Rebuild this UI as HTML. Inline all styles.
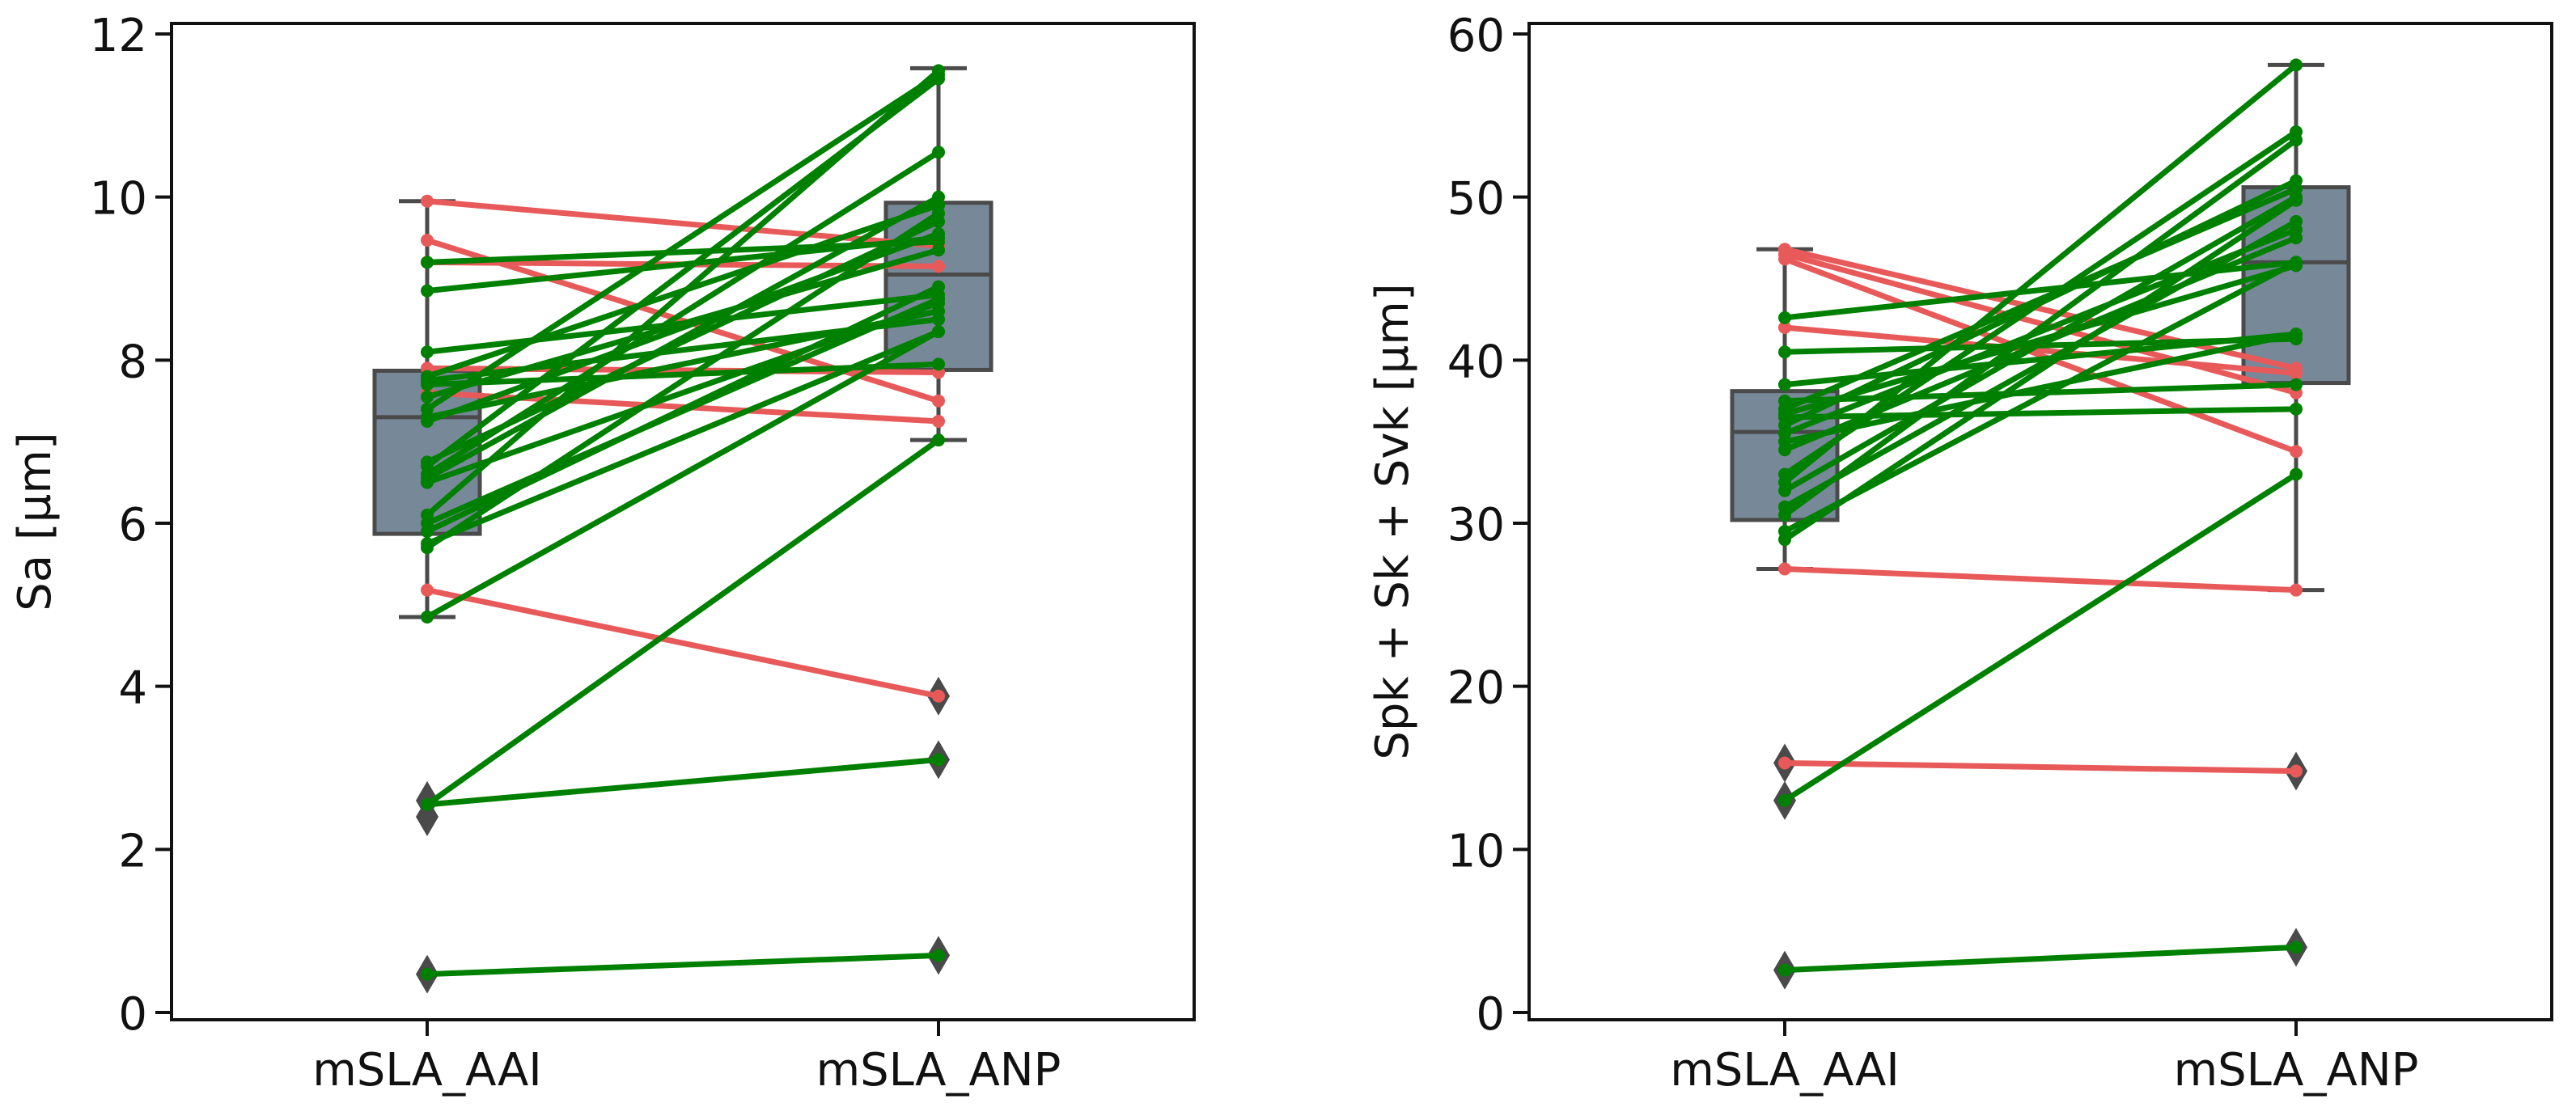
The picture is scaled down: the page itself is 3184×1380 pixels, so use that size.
<!DOCTYPE html>
<html><head><meta charset="utf-8"><style>
html,body{margin:0;padding:0;background:#fff;}
svg{display:block;font-family:"DejaVu Sans","Liberation Sans",sans-serif;}
</style></head><body>
<svg id="chart" width="3184" height="1380" viewBox="0 0 3184 1380" xmlns="http://www.w3.org/2000/svg"></svg>
<script>
const categories = ["mSLA_AAI", "mSLA_ANP"];
// Panel 1: Sa pairs [AAI, ANP]
const saPairs = [
 [9.95,9.4],[9.47,7.5],[9.2,9.15],[7.9,7.85],[7.6,7.25],[5.18,3.88],[7.55,9.35],
 [9.2,9.45],[8.85,9.5],[8.1,8.8],[7.8,9.9],[7.75,8.5],[7.7,7.95],[7.4,11.5],[7.3,8.6],
 [6.7,11.45],[6.6,10.55],[6.55,10.0],[6.75,9.7],[6.1,11.55],[5.9,8.9],[5.75,8.35],
 [5.7,9.8],[6.5,8.7],[4.85,8.35],[2.55,7.02],[2.55,3.1],[0.47,0.7],[7.25,9.55],[6.0,8.75]
];
const saBoxes = [
 {q1:5.87,med:7.3,q3:7.87,lo:4.85,hi:9.95,out:[2.6,2.4,0.47]},
 {q1:7.88,med:9.05,q3:9.93,lo:7.02,hi:11.58,out:[3.88,3.1,0.7]}
];
const saTicks = [0,2,4,6,8,10,12];
// Panel 2: Spk+Sk+Svk pairs
const sPairs = [
 [46.8,39.5],[46.5,38],[46.2,34.4],[42,39.2],[27.2,25.9],[15.3,14.8],
 [42.6,46],[40.5,41.3],[38.5,41.6],[37.5,38.5],[36.5,37],[37,50.5],[36,51],[35.5,48],
 [34.5,47.5],[33,54],[32.5,58.1],[32,50],[31,48.5],[30.5,53.5],[29,49.8],[29.5,46],
 [35,41.6],[36.7,45.8],[13,33],[2.6,4.0]
];
const sBoxes = [
 {q1:30.2,med:35.6,q3:38.1,lo:27.2,hi:46.8,out:[15.3,13.0,2.6]},
 {q1:38.6,med:46,q3:50.6,lo:25.9,hi:58.1,out:[14.8,4.0]}
];
const sTicks = [0,10,20,30,40,50,60];

const NS="http://www.w3.org/2000/svg";
const svg=document.getElementById('chart');
function mk(tag,attrs,parent){const e=document.createElementNS(NS,tag);for(const k in attrs)e.setAttribute(k,attrs[k]);(parent||svg).appendChild(e);return e;}

function panel(id,left,right,ymax,ticks,boxes,pairs,ylabel,ylabelX){
 const top=29,bottom=1261,y0=1252,yTop=42;
 const g=mk('g',{});
 
 
 const y=v=>y0-(v/ymax)*(y0-yTop);
 const w=right-left;
 const x=i=>left+w*(i+0.5)/2;
 boxes.forEach((b,i)=>{
  const cx=x(i),hw=65,cw=35;
  const bg=mk('g',{},g);
  
  
  mk('line',{x1:cx,x2:cx,y1:y(b.hi),y2:y(b.q3),stroke:'#4a4a4a','stroke-width':5},bg);
  mk('line',{x1:cx,x2:cx,y1:y(b.q1),y2:y(b.lo),stroke:'#4a4a4a','stroke-width':5},bg);
  mk('line',{x1:cx-cw,x2:cx+cw,y1:y(b.hi),y2:y(b.hi),stroke:'#4a4a4a','stroke-width':5},bg);
  mk('line',{x1:cx-cw,x2:cx+cw,y1:y(b.lo),y2:y(b.lo),stroke:'#4a4a4a','stroke-width':5},bg);
  mk('rect',{x:cx-hw,y:y(b.q3),width:2*hw,height:y(b.q1)-y(b.q3),fill:'#778899',stroke:'#4a4a4a','stroke-width':5},bg);
  mk('line',{x1:cx-hw,x2:cx+hw,y1:y(b.med),y2:y(b.med),stroke:'#4a4a4a','stroke-width':5},bg);
  b.out.forEach(o=>{
   const d=mk('path',{d:`M${cx} ${y(o)-24}L${cx+14} ${y(o)}L${cx} ${y(o)+24}L${cx-14} ${y(o)}Z`,fill:'#4a4a4a'},bg);
   
   
  });
 });
 pairs.forEach(p=>{
  const col=p[1]<p[0]?'#e85a5a':'#008000';
  const lg=mk('g',{},g);
  
  
  mk('line',{x1:x(0),y1:y(p[0]),x2:x(1),y2:y(p[1]),stroke:col,'stroke-width':7},lg);
  mk('circle',{cx:x(0),cy:y(p[0]),r:8,fill:col},lg);
  mk('circle',{cx:x(1),cy:y(p[1]),r:8,fill:col},lg);
 });
 const fr=mk('rect',{x:left,y:top,width:w,height:bottom-top,fill:'none',stroke:'#111','stroke-width':4},g);
 
 
 ticks.forEach(t=>{
  mk('line',{x1:left-20,x2:left,y1:y(t),y2:y(t),stroke:'#111','stroke-width':4},g);
  const tx=mk('text',{x:left-30,y:y(t)+21,'text-anchor':'end','font-size':56,fill:'#111'},g);
  tx.textContent=t;
  
  
 });
 categories.forEach((c,i)=>{
  mk('line',{x1:x(i),x2:x(i),y1:bottom,y2:bottom+20,stroke:'#111','stroke-width':4},g);
  const tx=mk('text',{x:x(i),y:1342,'text-anchor':'middle','font-size':56,fill:'#111'},g);
  tx.textContent=c;
  
  
 });
 const yl=mk('text',{x:ylabelX,y:(top+bottom)/2,'text-anchor':'middle','font-size':56,fill:'#111',transform:`rotate(-90 ${ylabelX} ${(top+bottom)/2})`},g);
 yl.textContent=ylabel;
 
 
}
panel('sa-panel',212,1476,12,saTicks,saBoxes,saPairs,'Sa [µm]',62);
panel('spk-sk-svk-panel',1890,3154,60,sTicks,sBoxes,sPairs,'Spk + Sk + Svk [µm]',1740);
</script>
</body></html>
